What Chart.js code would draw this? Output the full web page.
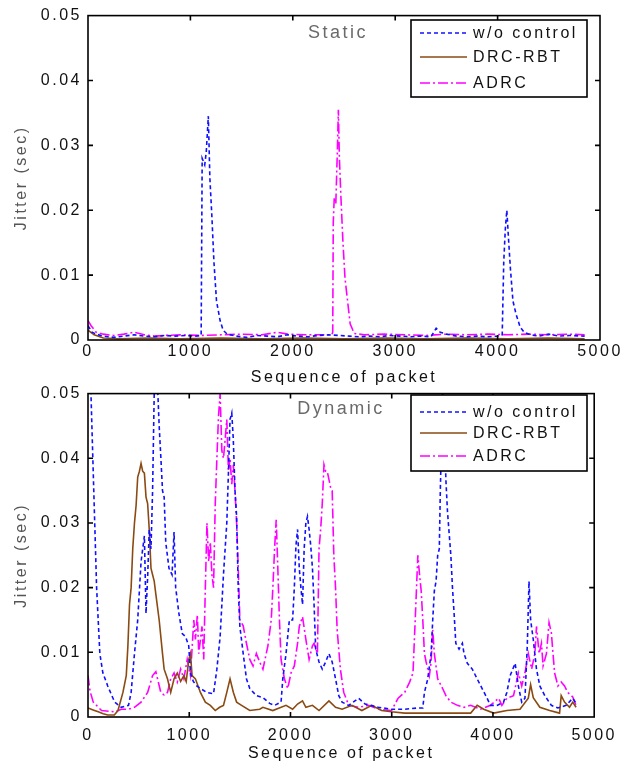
<!DOCTYPE html>
<html>
<head>
<meta charset="utf-8">
<script src="https://cdn.jsdelivr.net/npm/chart.js@4"></script>
<style>
  html, body { margin: 0; padding: 0; background: #fff; }
  #wrap { position: relative; width: 626px; height: 768px; }
  canvas { position: absolute; left: 0; }
  #topChart { top: 0; }
  #bottomChart { top: 378px; }
</style>
</head>
<body>
<div id="wrap">
  <canvas id="topChart" width="626" height="392"></canvas>
  <canvas id="bottomChart" width="626" height="390"></canvas>
</div>
<script>
// ===== Data =====
const seriesLabels = ['w/o control', 'DRC-RBT', 'ADRC'];
const xTicks = [0, 1000, 2000, 3000, 4000, 5000];
const yTicks = [0, 0.01, 0.02, 0.03, 0.04, 0.05];

// Static scenario: [packet, jitter]
const staticNoCtrl = [
  [0, 0.0022], [40, 0.0012], [80, 0.0009], [150, 0.0006], [250, 0.0004], [350, 0.0006],
  [450, 0.0008], [550, 0.0006], [650, 0.0005], [750, 0.0007], [850, 0.0006], [950, 0.0007],
  [1050, 0.0006], [1105, 0.0007], [1115, 0.028], [1140, 0.027], [1155, 0.029], [1175, 0.0345],
  [1190, 0.025], [1210, 0.019], [1230, 0.012], [1255, 0.006], [1290, 0.003], [1320, 0.0015],
  [1360, 0.0009], [1450, 0.0006], [1550, 0.0004], [1650, 0.0007], [1750, 0.0006], [1850, 0.0005],
  [1950, 0.0008], [2050, 0.0006], [2150, 0.0005], [2250, 0.0007], [2350, 0.0008], [2450, 0.0007],
  [2550, 0.0006], [2650, 0.0005], [2750, 0.0006], [2850, 0.0005], [2950, 0.0007], [3050, 0.0006],
  [3150, 0.0005], [3250, 0.0006], [3350, 0.0005], [3400, 0.0018], [3440, 0.0012], [3500, 0.0009],
  [3600, 0.0006], [3700, 0.0005], [3800, 0.0006], [3900, 0.0005], [4000, 0.0006], [4045, 0.0008],
  [4060, 0.012], [4075, 0.017], [4090, 0.020], [4105, 0.016], [4125, 0.011], [4150, 0.006],
  [4180, 0.004], [4220, 0.002], [4260, 0.0012], [4320, 0.0008], [4400, 0.0006], [4500, 0.0009],
  [4600, 0.0006], [4700, 0.0007], [4850, 0.0006]
];
const staticDrc = [
  [0, 0.0015], [60, 0.0008], [150, 0.0003], [300, 0.0002], [600, 0.0003], [900, 0.0002],
  [1300, 0.0003], [1700, 0.0002], [2100, 0.0003], [2500, 0.0002], [2900, 0.0003], [3300, 0.0002],
  [3700, 0.0003], [4100, 0.0002], [4500, 0.0003], [4850, 0.0002]
];
const staticAdrc = [
  [0, 0.003], [30, 0.0022], [80, 0.0012], [150, 0.0009], [250, 0.0007], [350, 0.0009],
  [450, 0.0012], [550, 0.0008], [650, 0.0006], [750, 0.0007], [900, 0.0008], [1100, 0.0007],
  [1300, 0.0008], [1500, 0.0009], [1700, 0.0008], [1850, 0.0012], [1950, 0.0009], [2150, 0.0008],
  [2380, 0.0008], [2390, 0.0012], [2395, 0.018], [2405, 0.022], [2420, 0.021], [2435, 0.029],
  [2445, 0.0355], [2455, 0.028], [2470, 0.022], [2490, 0.015], [2510, 0.0095], [2535, 0.006],
  [2560, 0.0025], [2600, 0.001], [2700, 0.0008], [2900, 0.0009], [3100, 0.0008], [3300, 0.0007],
  [3500, 0.0009], [3700, 0.0008], [3900, 0.0009], [4100, 0.0008], [4300, 0.0009], [4500, 0.0008],
  [4700, 0.0009], [4850, 0.0008]
];

// Dynamic scenario: [packet, jitter]
const dynNoCtrl = [
  [0, 0.07], [20, 0.055], [52, 0.0377], [85, 0.020], [117, 0.0098], [147, 0.0068], [195, 0.0048],
  [230, 0.0035], [264, 0.0023], [329, 0.0015], [400, 0.0018], [426, 0.0038], [459, 0.0098],
  [491, 0.015], [524, 0.024], [557, 0.028], [573, 0.016], [590, 0.022], [605, 0.029], [622, 0.026],
  [638, 0.035], [654, 0.05], [670, 0.052], [690, 0.05], [703, 0.045], [720, 0.040], [736, 0.035],
  [752, 0.034], [768, 0.027], [800, 0.023], [830, 0.022], [850, 0.0286], [866, 0.020], [898, 0.016],
  [931, 0.0129], [964, 0.0124], [995, 0.011], [1012, 0.0068], [1040, 0.0055], [1074, 0.0048],
  [1172, 0.0038], [1240, 0.0036], [1273, 0.0074], [1305, 0.0124], [1338, 0.022], [1371, 0.030],
  [1387, 0.0377], [1403, 0.046], [1420, 0.047], [1435, 0.043], [1452, 0.035], [1468, 0.031],
  [1484, 0.020], [1500, 0.014], [1533, 0.0098], [1565, 0.0059], [1598, 0.0044], [1663, 0.0033],
  [1728, 0.003], [1794, 0.0021], [1843, 0.0018], [1907, 0.0023], [1924, 0.0059], [1956, 0.0098],
  [1989, 0.015], [2021, 0.015], [2038, 0.020], [2054, 0.0265], [2070, 0.029], [2087, 0.023],
  [2103, 0.020], [2119, 0.0174], [2135, 0.026], [2152, 0.030], [2168, 0.031], [2184, 0.029],
  [2200, 0.0265], [2217, 0.023], [2233, 0.0174], [2249, 0.0105], [2282, 0.0085], [2314, 0.0074],
  [2347, 0.0085], [2380, 0.0098], [2412, 0.0085], [2445, 0.0059], [2477, 0.0033], [2510, 0.0023],
  [2575, 0.0018], [2673, 0.0029], [2738, 0.002], [2868, 0.0015], [2998, 0.0012], [3128, 0.0012],
  [3258, 0.0014], [3307, 0.0014], [3323, 0.0038], [3356, 0.0059], [3389, 0.0098], [3405, 0.015],
  [3421, 0.0195], [3438, 0.021], [3454, 0.025], [3470, 0.026], [3480, 0.035], [3495, 0.045],
  [3503, 0.05], [3520, 0.045], [3535, 0.0367], [3551, 0.0317], [3584, 0.025], [3600, 0.020],
  [3617, 0.0158], [3633, 0.0114], [3665, 0.0105], [3698, 0.0114], [3714, 0.0098], [3747, 0.0083],
  [3796, 0.0074], [3844, 0.0059], [3893, 0.0044], [3942, 0.0029], [3975, 0.0018], [4040, 0.0018],
  [4105, 0.0023], [4137, 0.0038], [4170, 0.0064], [4219, 0.0083], [4251, 0.0048], [4284, 0.0023],
  [4316, 0.0029], [4339, 0.011], [4356, 0.021], [4372, 0.015], [4398, 0.012], [4430, 0.0074],
  [4463, 0.0048], [4512, 0.0033], [4577, 0.0018], [4642, 0.0014], [4723, 0.0018], [4788, 0.0029],
  [4821, 0.0021]
];
const dynDrc = [
  [0, 0.0014], [50, 0.0011], [101, 0.0008], [150, 0.0005], [195, 0.0003], [260, 0.0003],
  [296, 0.001], [345, 0.0038], [378, 0.0064], [394, 0.011], [410, 0.0174], [426, 0.020],
  [442, 0.026], [459, 0.030], [475, 0.0327], [491, 0.0371], [508, 0.038], [524, 0.0392],
  [540, 0.038], [557, 0.0377], [573, 0.034], [589, 0.033], [605, 0.029], [622, 0.023],
  [638, 0.022], [654, 0.021], [670, 0.019], [703, 0.015], [736, 0.0098], [752, 0.0074],
  [785, 0.0059], [817, 0.0038], [850, 0.0059], [882, 0.0068], [915, 0.0055], [947, 0.0064],
  [970, 0.0055], [996, 0.0089], [1012, 0.0098], [1028, 0.0064], [1061, 0.0059], [1110, 0.0038],
  [1159, 0.0023], [1208, 0.0018], [1257, 0.001], [1300, 0.0015], [1338, 0.0018], [1371, 0.0038],
  [1403, 0.0059], [1436, 0.0038], [1468, 0.0023], [1517, 0.0018], [1598, 0.001], [1696, 0.0012],
  [1728, 0.0015], [1825, 0.001], [1956, 0.0018], [2021, 0.0012], [2070, 0.002], [2119, 0.0025],
  [2152, 0.0015], [2217, 0.0018], [2282, 0.001], [2380, 0.0025], [2445, 0.0015], [2510, 0.0012],
  [2607, 0.0018], [2705, 0.001], [2803, 0.0018], [2900, 0.001], [2998, 0.0008], [3128, 0.0006],
  [3258, 0.0006], [3500, 0.0006], [3780, 0.0006], [3844, 0.0018], [3909, 0.0012], [4007, 0.0006],
  [4137, 0.001], [4267, 0.0012], [4349, 0.0029], [4372, 0.005], [4398, 0.003], [4463, 0.0015],
  [4560, 0.001], [4658, 0.0006], [4674, 0.0033], [4707, 0.0023], [4756, 0.0015], [4788, 0.0023],
  [4821, 0.0015]
];
const dynAdrc = [
  [0, 0.0064], [20, 0.004], [52, 0.0023], [134, 0.001], [264, 0.0008], [329, 0.0012],
  [400, 0.0012], [459, 0.0015], [524, 0.0023], [589, 0.0038], [638, 0.0064], [670, 0.007],
  [687, 0.0059], [719, 0.0038], [752, 0.0034], [785, 0.0038], [817, 0.0059], [850, 0.0068],
  [882, 0.0054], [915, 0.0074], [947, 0.0059], [980, 0.0089], [1012, 0.0064], [1045, 0.015],
  [1061, 0.012], [1080, 0.0158], [1094, 0.0098], [1126, 0.014], [1143, 0.0089], [1159, 0.020],
  [1175, 0.030], [1192, 0.024], [1208, 0.027], [1224, 0.022], [1240, 0.020], [1257, 0.033],
  [1273, 0.040], [1289, 0.0465], [1305, 0.05], [1322, 0.0412], [1338, 0.040], [1355, 0.043],
  [1371, 0.046], [1387, 0.038], [1403, 0.040], [1420, 0.036], [1436, 0.039], [1452, 0.035],
  [1468, 0.030], [1484, 0.023], [1500, 0.015], [1533, 0.0141], [1565, 0.0114], [1598, 0.0089],
  [1630, 0.0079], [1663, 0.0098], [1696, 0.0085], [1728, 0.0074], [1777, 0.011], [1810, 0.015],
  [1826, 0.020], [1843, 0.026], [1859, 0.0305], [1875, 0.023], [1891, 0.015], [1907, 0.0089],
  [1940, 0.0059], [1973, 0.0044], [2005, 0.0068], [2038, 0.0079], [2070, 0.0114], [2087, 0.014],
  [2119, 0.0155], [2152, 0.012], [2184, 0.0089], [2217, 0.011], [2233, 0.0114], [2266, 0.0098],
  [2282, 0.026], [2298, 0.029], [2314, 0.033], [2331, 0.039], [2347, 0.038], [2363, 0.038],
  [2396, 0.0355], [2412, 0.035], [2428, 0.025], [2445, 0.020], [2461, 0.0135], [2493, 0.0074],
  [2526, 0.0038], [2575, 0.0018], [2673, 0.0015], [2770, 0.0018], [2868, 0.0012], [2998, 0.001],
  [3063, 0.0029], [3128, 0.0038], [3177, 0.0054], [3210, 0.0068], [3232, 0.015], [3258, 0.025],
  [3275, 0.022], [3291, 0.0195], [3307, 0.015], [3323, 0.0098], [3340, 0.0085], [3372, 0.0064],
  [3389, 0.0085], [3405, 0.0135], [3421, 0.0098], [3454, 0.0059], [3503, 0.0044], [3535, 0.0033],
  [3584, 0.0023], [3649, 0.0018], [3714, 0.0015], [3779, 0.0018], [3877, 0.0012], [3975, 0.0018],
  [4056, 0.0029], [4088, 0.0018], [4137, 0.0029], [4203, 0.0033], [4251, 0.0068], [4284, 0.0048],
  [4316, 0.0068], [4349, 0.0098], [4382, 0.0074], [4414, 0.0098], [4430, 0.014], [4456, 0.0098],
  [4479, 0.0114], [4495, 0.0079], [4528, 0.0098], [4554, 0.0146], [4577, 0.013], [4593, 0.0098],
  [4609, 0.0068], [4642, 0.0048], [4674, 0.0054], [4707, 0.0048], [4739, 0.0038], [4788, 0.0031],
  [4821, 0.0018]
];

// ===== Styles =====
const FONT = "'Liberation Sans', Arial, sans-serif";
const SPACING = '2.5px';
const seriesColors = ['#1010ff', '#8a4a12', '#ff00ff'];
const seriesDash = [[4, 3], [], [10, 3, 2, 3]];

function toPoints(pairs) {
  return pairs.map(p => ({ x: p[0], y: p[1] }));
}

function buildDatasets(lists) {
  return lists.map((list, i) => ({
    label: seriesLabels[i],
    data: toPoints(list),
    borderColor: seriesColors[i],
    borderDash: seriesDash[i],
    borderWidth: 1.6,
    pointRadius: 0,
    tension: 0,
    fill: false
  }));
}

// frame, inward ticks, scenario name, boxed legend
const matlabPlugin = {
  id: 'matlabLook',
  beforeUpdate(chart) { chart.ctx.letterSpacing = SPACING; },
  beforeDraw(chart) { chart.ctx.letterSpacing = SPACING; },
  afterDatasetsDraw(chart, args, opts) {
    const { ctx, chartArea: a, scales: { x, y } } = chart;
    ctx.save();
    ctx.letterSpacing = SPACING;
    ctx.strokeStyle = '#000';
    ctx.lineWidth = 1.6;
    ctx.setLineDash([]);
    ctx.strokeRect(a.left, a.top, a.right - a.left, a.bottom - a.top);

    const t = 5;
    ctx.beginPath();
    xTicks.slice(1, -1).forEach(v => {
      const px = x.getPixelForValue(v);
      ctx.moveTo(px, a.bottom); ctx.lineTo(px, a.bottom - t);
      ctx.moveTo(px, a.top); ctx.lineTo(px, a.top + t);
    });
    yTicks.slice(1, -1).forEach(v => {
      const py = y.getPixelForValue(v);
      ctx.moveTo(a.left, py); ctx.lineTo(a.left + t, py);
      ctx.moveTo(a.right, py); ctx.lineTo(a.right - t, py);
    });
    ctx.stroke();

    // scenario name
    ctx.fillStyle = '#6a6a6a';
    ctx.font = '18px ' + FONT;
    ctx.textAlign = 'center';
    ctx.textBaseline = 'middle';
    ctx.fillText(opts.name, opts.nameX, opts.nameY);

    // legend
    const b = opts.box;
    ctx.fillStyle = '#fff';
    ctx.fillRect(b.x, b.y, b.w, b.h);
    ctx.strokeRect(b.x, b.y, b.w, b.h);
    ctx.font = '16px ' + FONT;
    ctx.textAlign = 'left';
    chart.data.datasets.forEach((ds, i) => {
      const ry = b.y + opts.rows[i];
      ctx.strokeStyle = ds.borderColor;
      ctx.lineWidth = 1.6;
      ctx.setLineDash(ds.borderDash);
      ctx.beginPath();
      ctx.moveTo(b.x + 9, ry);
      ctx.lineTo(b.x + 56, ry);
      ctx.stroke();
      ctx.fillStyle = '#111';
      ctx.fillText(ds.label, b.x + 62, ry + 1);
    });
    ctx.restore();
  }
};

function criarGrafico(id, lists, cfg) {
  const tickFont = { family: FONT, size: 16 };
  return new Chart(document.getElementById(id), {
    type: 'line',
    data: { datasets: buildDatasets(lists) },
    options: {
      responsive: false,
      animation: false,
      layout: { padding: { top: cfg.areaTop, right: 26, left: 0, bottom: 0 } },
      plugins: {
        legend: { display: false },
        tooltip: { enabled: false },
        matlabLook: cfg.deco
      },
      scales: {
        x: {
          type: 'linear',
          min: 0,
          max: 5000,
          afterBuildTicks: s => { s.ticks = xTicks.map(v => ({ value: v })); },
          ticks: {
            color: '#111', font: tickFont, padding: cfg.xTickPad, maxRotation: 0,
            callback: v => String(v)
          },
          grid: { display: false, drawTicks: false },
          border: { display: false },
          title: {
            display: true, text: 'Sequence of packet', color: '#111',
            font: { family: FONT, size: 16 }, padding: { top: 0, bottom: 5 }
          },
          afterFit: s => { s.height = cfg.xHeight; }
        },
        y: {
          min: 0,
          max: 0.05,
          afterBuildTicks: s => { s.ticks = yTicks.map(v => ({ value: v })); },
          ticks: {
            color: '#111', font: tickFont, padding: 6,
            callback: v => (v === 0 ? '0' : v.toFixed(2))
          },
          grid: { display: false, drawTicks: false },
          border: { display: false },
          title: {
            display: true, text: 'Jitter (sec)', color: '#555',
            font: { family: FONT, size: 16 }, padding: { top: 12, bottom: 0 }
          },
          afterFit: s => { s.width = 88; }
        }
      }
    },
    plugins: [matlabPlugin]
  });
}

// ===== Main =====
criarGrafico('topChart', [staticNoCtrl, staticDrc, staticAdrc], {
  areaTop: 14, xHeight: 52, xTickPad: 2,
  deco: {
    name: 'Static', nameX: 338, nameY: 33,
    box: { x: 411, y: 20, w: 176, h: 77 },
    rows: [13, 37, 63]
  }
});

criarGrafico('bottomChart', [dynNoCtrl, dynDrc, dynAdrc], {
  areaTop: 9, xHeight: 51, xTickPad: 9,
  deco: {
    name: 'Dynamic', nameX: 341, nameY: 31,
    box: { x: 411, y: 17, w: 176, h: 76 },
    rows: [17, 38, 61]
  }
});
</script>
</body>
</html>
